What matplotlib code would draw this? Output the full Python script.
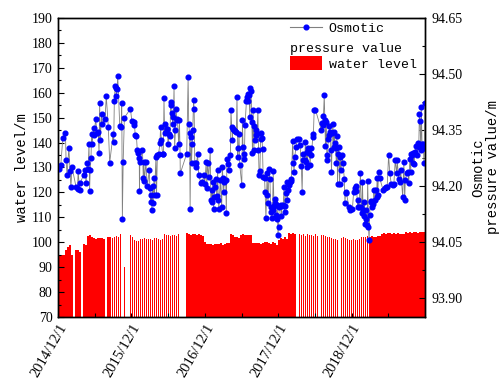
import numpy as np
import matplotlib
matplotlib.use('Agg')
import matplotlib.pyplot as plt
import matplotlib.dates as mdates
from matplotlib.ticker import MultipleLocator, FuncFormatter
from matplotlib.lines import Line2D
from matplotlib.patches import Patch

plt.rcParams['font.family'] = ['Liberation Serif', 'DejaVu Serif']

start = np.datetime64('2014-12-01')

# water level (left axis), one reading per 10 days from 2014/12/1, nan = no record
water_level = [
    94.9, 94.9, 94.7, 95.0, 96.9, 98.0, 98.9, 94.9, np.nan, 97.0,
    97.0, 96.0, np.nan, 99.2, 99.0, 102.5, 102.9, 102.2, 101.7, 101.5,
    101.8, 101.6, 101.9, 101.4, np.nan, 102.0, 102.2, 101.8, 102.3, 102.6,
    102.0, 103.4, np.nan, 90.0, np.nan, np.nan, 103.0, 102.2, 100.8, 100.3,
    100.6, 101.5, 101.3, 101.6, 101.2, 101.5, 101.4, 101.0, 101.6, 101.8,
    101.2, 100.8, 101.5, 103.2, 102.9, 103.1, 102.5, 103.0, 102.8, 102.4,
    103.3, np.nan, np.nan, np.nan, 103.6, 103.4, 103.0, 103.5, 103.2, 102.9,
    103.4, 103.0, 102.6, 100.0, 99.4, 99.2, 99.3, 99.0, 99.4, 99.1,
    99.3, 99.5, 99.0, 99.3, 99.6, 99.8, 103.5, 103.0, 102.0, 102.2,
    101.8, 103.0, 103.2, 102.8, 103.1, 102.9, 103.0, 99.8, 99.6, 99.5,
    99.7, 99.4, 99.6, 99.9, 100.2, 99.5, 99.3, 100.0, 99.6, 98.8,
    101.0, 101.8, 101.4, 102.0, 101.5, 103.6, 103.4, 103.7, 103.5, np.nan,
    103.2, 102.8, 103.3, 102.6, 103.5, 102.9, 103.1, 102.7, 103.2, 102.5,
    np.nan, 103.0, 102.9, 102.6, 102.3, 102.0, 101.8, 101.5, 101.2, 101.0,
    np.nan, 101.8, 102.0, 101.7, 101.5, 101.1, 100.9, 101.2, 100.8, 101.0,
    101.3, 102.0, 102.3, 102.1, 102.5, 102.2, 102.4, 102.0, 102.3, 102.6,
    102.4, 103.5, 103.7, 103.4, 103.6, 103.8, 103.5, 103.7, 103.4, 103.6,
    103.2, 103.5, 103.3, 104.0, 103.9, 104.1, 103.9, 104.0, 104.1, 103.9,
    104.0, 104.2, 104.0, 104.1,
]

# osmotic pressure readings (right axis): days after 2014/12/1 and value
osm_day = [
    4, 14, 24, 37, 40, 45, 54, 60, 64, 70,
    90, 97, 100, 107, 110, 127, 134, 140, 144, 150,
    154, 157, 160, 164, 167, 170, 177, 180, 187, 194,
    200, 204, 207, 210, 217, 220, 234, 240, 250, 257,
    274, 277, 280, 284, 287, 290, 294, 297, 307, 314,
    317, 320, 324, 330, 360, 367, 377, 380, 384, 390,
    394, 397, 404, 405, 407, 420, 424, 427, 430, 437,
    444,
    454, 457, 460, 464, 467, 470, 474, 477, 480, 487,
    490, 494, 500, 507, 510, 514, 520, 524, 527, 530,
    534, 540, 544, 547, 554, 557, 560, 564, 567, 570,
    574, 577, 580, 584, 587, 590, 594, 600, 604, 607,
    608, 640, 647, 650, 654, 657, 660, 664, 667, 670,
    674, 677, 680, 684, 687, 694, 700, 710, 717, 727,
    730, 737, 740, 744, 750, 757, 760, 764, 767, 770,
    774, 777, 780, 784, 790, 794, 797, 800, 807, 814,
    817, 820, 824, 827, 834, 837, 840, 844, 850, 857,
    860, 864, 867, 870, 874, 880, 887, 890, 894, 897,
    900, 904,
    914, 917, 920, 924, 927, 930, 937, 940, 944, 947,
    950, 954, 957, 960, 964, 967, 970, 974, 977, 980,
    984, 987, 990, 994, 997, 1000, 1004, 1007, 1010, 1014,
    1017, 1020, 1027, 1030, 1034, 1037, 1040, 1044, 1050, 1054,
    1057, 1060, 1064, 1067, 1070, 1074, 1077, 1080, 1084, 1087,
    1090, 1094, 1097, 1100, 1107, 1110, 1114, 1120, 1124, 1127,
    1130, 1134, 1137, 1140, 1144, 1147, 1154, 1157, 1160, 1167,
    1170, 1174, 1177, 1184, 1190, 1197, 1204, 1210, 1214, 1217,
    1220, 1227, 1230, 1234, 1237, 1240, 1244, 1250, 1254, 1257,
    1260, 1267, 1270, 1274, 1280, 1310, 1314, 1317, 1320, 1324,
    1327, 1330, 1334, 1337, 1340, 1344, 1347, 1350, 1354, 1357,
    1360, 1364, 1367, 1370, 1374, 1377,
    1380, 1384, 1387, 1390, 1394, 1397, 1400, 1404, 1407, 1414,
    1417, 1424, 1427, 1430, 1434, 1447, 1454, 1464, 1470, 1477,
    1480, 1484, 1490, 1494, 1497, 1504, 1507, 1510, 1514, 1517,
    1520, 1524, 1527, 1530, 1534, 1537, 1540, 1544, 1547, 1550,
    1554, 1557, 1560, 1567, 1570, 1577, 1580, 1584, 1587, 1590,
    1594, 1600, 1617, 1624, 1630, 1637, 1644, 1650, 1657, 1664,
    1670, 1677, 1684, 1687, 1694, 1700, 1704, 1714, 1720, 1724,
    1727, 1734, 1740, 1744, 1750, 1754, 1757, 1760, 1764, 1767,
    1770, 1777, 1780, 1787, 1790, 1794, 1797, 1800, 1804, 1807,
    1810, 1814, 1817, 1820, 1822, 1824,
]
osm_value = [
    94.245, 94.258, 94.330, 94.343, 94.269, 94.231, 94.303, 94.241, 94.197, 94.250,
    94.197, 94.192, 94.241, 94.191, 94.209, 94.229, 94.243, 94.209, 94.261, 94.247,
    94.314, 94.188, 94.243, 94.275, 94.339, 94.314, 94.357, 94.337, 94.380, 94.343,
    94.345, 94.289, 94.423, 94.323, 94.394, 94.367, 94.381, 94.441, 94.359, 94.263,
    94.339, 94.317, 94.428, 94.467, 94.463, 94.440, 94.461, 94.495, 94.362, 94.359,
    94.423, 94.111, 94.266, 94.383, 94.407, 94.375, 94.371, 94.365, 94.337, 94.333,
    94.298, 94.289, 94.275, 94.188, 94.264, 94.298, 94.221, 94.264, 94.215, 94.264,
    94.200,
    94.243, 94.194, 94.159, 94.176, 94.136, 94.200, 94.154, 94.221, 94.176, 94.279,
    94.176, 94.283, 94.285, 94.316, 94.359, 94.323, 94.285, 94.287, 94.437, 94.341,
    94.367, 94.353, 94.354, 94.314, 94.339, 94.333, 94.425, 94.416, 94.396, 94.367,
    94.385, 94.467, 94.303, 94.351, 94.407, 94.381, 94.376, 94.314, 94.376, 94.283,
    94.234, 94.287, 94.492, 94.367, 94.341, 94.140, 94.332, 94.261, 94.314, 94.349,
    94.431, 94.407, 94.263, 94.261, 94.252, 94.285, 94.229, 94.209, 94.212, 94.229,
    94.207, 94.265, 94.194, 94.261, 94.225, 94.296, 94.163, 94.189, 94.159, 94.212,
    94.138, 94.172, 94.199, 94.218, 94.173, 94.243, 94.163, 94.140, 94.216, 94.143,
    94.252, 94.221, 94.185, 94.212, 94.216, 94.127, 94.274, 94.259, 94.243, 94.283,
    94.405, 94.359, 94.323, 94.354, 94.349, 94.348, 94.345, 94.439, 94.279, 94.301,
    94.339, 94.256,
    94.203, 94.376, 94.305, 94.274, 94.287, 94.363, 94.428, 94.439, 94.428, 94.447,
    94.443, 94.385, 94.463, 94.455, 94.372, 94.289, 94.405, 94.296, 94.360, 94.323,
    94.336, 94.349, 94.339, 94.405, 94.296, 94.229, 94.241, 94.325, 94.341, 94.330,
    94.300, 94.225, 94.221, 94.185, 94.114, 94.176, 94.234, 94.154, 94.247, 94.218,
    94.145, 94.132, 94.114, 94.136, 94.241, 94.147, 94.167, 94.154, 94.123, 94.111,
    94.149, 94.069, 94.092, 94.145, 94.149, 94.119, 94.147, 94.149, 94.197, 94.132,
    94.147, 94.181, 94.212, 94.163, 94.189, 94.203, 94.212, 94.218, 94.215, 94.321,
    94.263, 94.239, 94.279, 94.305, 94.327, 94.327, 94.309, 94.253, 94.185, 94.269,
    94.285, 94.271, 94.319, 94.265, 94.292, 94.252, 94.301, 94.289, 94.256, 94.301,
    94.283, 94.332, 94.339, 94.405, 94.405, 94.349, 94.369, 94.363, 94.387, 94.445,
    94.376, 94.307, 94.372, 94.283, 94.269, 94.327, 94.336, 94.360, 94.345, 94.298,
    94.239, 94.341, 94.367, 94.305, 94.345, 94.316,
    94.303, 94.263, 94.333, 94.205, 94.287, 94.305, 94.207, 94.277, 94.243, 94.283,
    94.263, 94.218, 94.154, 94.185, 94.181, 94.145, 94.136, 94.138, 94.185, 94.194,
    94.188, 94.200, 94.143, 94.163, 94.145, 94.234, 94.143, 94.129, 94.212, 94.135,
    94.119, 94.159, 94.099, 94.136, 94.111, 94.096, 94.215, 94.092, 94.055, 94.123,
    94.159, 94.161, 94.145, 94.152, 94.191, 94.163, 94.191, 94.172, 94.221, 94.176,
    94.239, 94.221, 94.189, 94.194, 94.197, 94.199, 94.283, 94.234, 94.207, 94.203,
    94.205, 94.269, 94.234, 94.269, 94.218, 94.212, 94.243, 94.172, 94.265, 94.163,
    94.216, 94.234, 94.239, 94.209, 94.274, 94.239, 94.285, 94.283, 94.261, 94.289,
    94.259, 94.292, 94.307, 94.283, 94.316, 94.305, 94.392, 94.375, 94.298, 94.412,
    94.314, 94.314, 94.309, 94.261, 94.303, 94.423,
]

bar_dates = start + np.arange(len(water_level)) * np.timedelta64(10, 'D')
osm_dates = start + np.array(osm_day) * np.timedelta64(1, 'D')

fig = plt.figure(figsize=(5.01, 3.78), dpi=100)
ax = fig.add_axes([0.1158, 0.1614, 0.7325, 0.791])
ax2 = ax.twinx()

ax.bar(bar_dates, water_level, width=8, color='#ff0000', linewidth=0)
ax2.plot(osm_dates, osm_value, color='#808080', lw=0.6, marker='o',
         markersize=3.4, markerfacecolor='#0000ff', markeredgecolor='#0000ff')

ax.set_xlim(start, start + np.timedelta64(1825, 'D'))
ax.set_ylim(70, 190)
ax2.set_ylim(93.85, 94.65)

ax.yaxis.set_major_locator(MultipleLocator(10))
ax.yaxis.set_minor_locator(MultipleLocator(5))
ax2.yaxis.set_major_locator(MultipleLocator(0.15))
ax2.yaxis.set_minor_locator(MultipleLocator(0.075))
ax2.yaxis.set_major_formatter(FuncFormatter(lambda v, p: f'{v:.2f}'))

ax.xaxis.set_major_locator(mdates.MonthLocator(bymonth=12, bymonthday=1))
ax.xaxis.set_minor_locator(mdates.MonthLocator(bymonth=6, bymonthday=1))
ax.xaxis.set_major_formatter(FuncFormatter(
    lambda v, p: f'{mdates.num2date(v).year}/{mdates.num2date(v).month}/{mdates.num2date(v).day}'))

for a in (ax, ax2):
    a.tick_params(which='both', direction='in', labelsize=10, width=0.8)
    a.tick_params(which='major', length=4)
    a.tick_params(which='minor', length=2.5)
    for s in a.spines.values():
        s.set_linewidth(1.0)
ax.tick_params(axis='y', pad=4)
ax2.tick_params(axis='y', pad=5)
ax.tick_params(axis='x', which='both', length=3, pad=3)
ax.tick_params(top=False, right=False)
for lab in ax.get_xticklabels():
    lab.set_rotation(60)
    lab.set_ha('right')
    lab.set_rotation_mode('anchor')
    lab.set_fontsize(10.5)

mono = ['Liberation Mono', 'DejaVu Sans Mono']
label_font = {'family': mono, 'size': 10}
ax.set_ylabel('water level/m', fontdict=label_font, labelpad=2)
ax2.set_ylabel('Osmotic\npressure value/m', fontdict=label_font, labelpad=6,
               linespacing=1.0)

handles = [Line2D([], [], color='#808080', lw=0.8, marker='o', markersize=3.4,
                  markerfacecolor='#0000ff', markeredgecolor='#0000ff'),
           Patch(facecolor='#ff0000', edgecolor='none')]
leg = ax2.legend(handles, ['Osmotic', 'water level'], loc='upper left',
                 bbox_to_anchor=(0.632, 0.99), frameon=False, borderpad=0,
                 borderaxespad=0, handlelength=2.4, handleheight=1.2,
                 handletextpad=0.55, labelspacing=1.6,
                 prop={'family': mono, 'size': 9.5})
ax2.text(0.632, 0.897, 'pressure value', transform=ax2.transAxes, ha='left',
         va='center', family=mono, fontsize=9.5)

fig.savefig('out.png', dpi=100)
